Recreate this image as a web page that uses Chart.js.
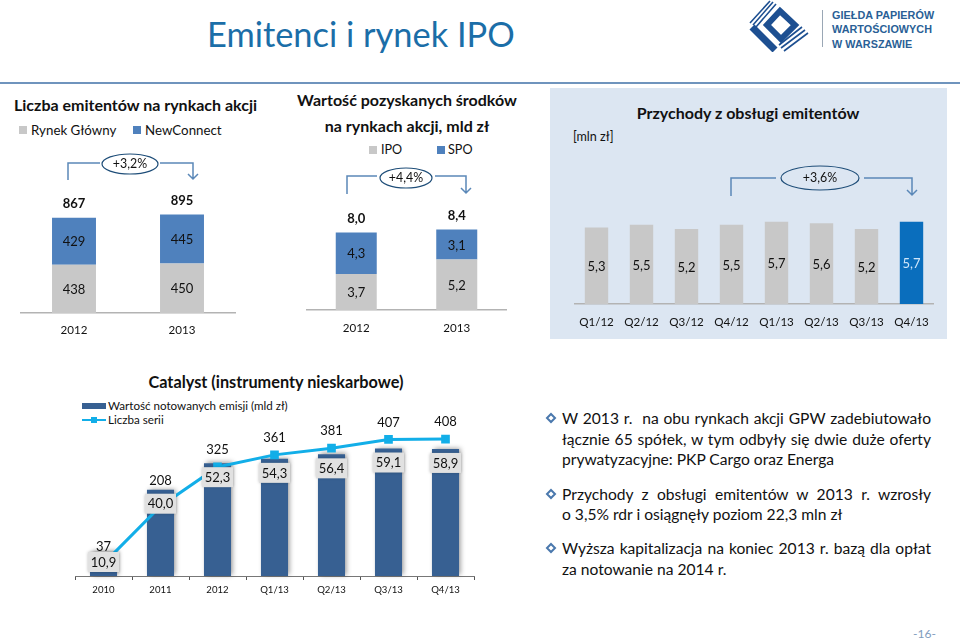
<!DOCTYPE html>
<html lang="pl">
<head>
<meta charset="utf-8">
<title>Emitenci i rynek IPO</title>
<script src="https://cdn.jsdelivr.net/npm/chart.js@4"></script>
<style>
  html, body { margin: 0; padding: 0; background: #fff; }
  #page { position: relative; width: 960px; height: 639px; overflow: hidden; font-family: Lato, sans-serif; color: #111; }
  #page > * { position: absolute; }
  canvas { display: block; }
  .t { white-space: nowrap; line-height: 20px; }
  .title { font-weight: 700; font-size: 16px; transform: translateX(-50%); }
  .leg { font-size: 12.6px; }
  .sw { width: 8px; height: 8px; }
  .body { left: 562px; width: 369px; font-size: 15.6px; line-height: 20px; white-space: normal; }
  .just { text-align: justify; text-align-last: justify; }
  .logo { font-family: "Liberation Sans", sans-serif; font-weight: 700; font-size: 10.8px; color: #2a5f96; letter-spacing: .05px; line-height: 14px; white-space: nowrap; }
</style>
</head>
<body>
<div id="page">
  <div class="t" style="left:207px;top:14px;font-size:34.4px;line-height:40px;color:#1b6ea8">Emitenci i rynek IPO</div>
  <div style="left:0;top:82px;width:960px;height:2px;background:#6f94bd"></div>

  <svg style="left:745px;top:0" width="65" height="52" viewBox="0 0 65 52">
    <g fill="none" stroke="#1d4f91">
      <path d="M5 23 L25 1 M8 25 L28 2 M11 27 L31 4" stroke-width="1.6"/>
      <path d="M7 27 L30 50" stroke-width="7"/>
      <path d="M35 11 L50 25 L36 39 L22 25 Z" stroke-width="6"/>
      <path d="M34 45 L57 27 M36 48 L60 30 M39 51 L63 33" stroke-width="1.6"/>
    </g>
  </svg>
  <div style="left:822px;top:10px;width:1px;height:37px;background:#9aa7b5"></div>
  <div class="logo" style="left:832px;top:8px">GIEŁDA PAPIERÓW</div>
  <div class="logo" style="left:832px;top:22px">WARTOŚCIOWYCH</div>
  <div class="logo" style="left:832px;top:37px">W WARSZAWIE</div>

  <div style="left:550px;top:88px;width:397px;height:251px;background:#dce6f2"></div>

  <div class="t title" style="left:135.5px;top:95px">Liczba emitentów na rynkach akcji</div>
  <div class="sw" style="left:19px;top:126px;background:#c8c8c8"></div>
  <div class="t leg" style="left:31px;top:120px;font-size:13.3px">Rynek Główny</div>
  <div class="sw" style="left:133px;top:126px;background:#4f81bd"></div>
  <div class="t leg" style="left:145px;top:120px;font-size:13.3px">NewConnect</div>

  <div class="t title" style="left:407px;top:90px">Wartość pozyskanych środków</div>
  <div class="t title" style="left:407px;top:116px">na rynkach akcji, mld zł</div>
  <div class="sw" style="left:369px;top:146px;background:#c8c8c8"></div>
  <div class="t leg" style="left:381px;top:140px">IPO</div>
  <div class="sw" style="left:437px;top:146px;background:#4f81bd"></div>
  <div class="t leg" style="left:448px;top:140px">SPO</div>

  <div class="t title" style="left:748px;top:103px">Przychody z obsługi emitentów</div>
  <div class="t leg" style="left:573px;top:127px">[mln zł]</div>

  <div class="t title" style="left:276px;top:372px;font-size:16.3px">Catalyst (instrumenty nieskarbowe)</div>
  <div style="left:82px;top:403px;width:24px;height:6px;background:#376092"></div>
  <div class="t" style="left:108px;top:396px;font-size:11.6px">Wartość notowanych emisji (mld zł)</div>
  <div style="left:82px;top:419px;width:24px;height:2px;background:#12aee8"></div>
  <div style="left:91px;top:417px;width:6px;height:6px;background:#12aee8"></div>
  <div class="t" style="left:108px;top:410px;font-size:11.6px">Liczba serii</div>

  <canvas id="emitentChart" width="216" height="153" style="left:20px;top:190px"></canvas>
  <canvas id="fundsChart" width="201" height="140" style="left:306px;top:200px"></canvas>
  <canvas id="revenueChart" width="360" height="131" style="left:574px;top:203px"></canvas>
  <canvas id="catalystChart" width="413" height="196" style="left:68px;top:405px"></canvas>

  <svg style="left:0;top:0" width="960" height="260">
    <g fill="none" stroke="#5b88b8" stroke-width="1.5">
      <path d="M68 180 V163 H100 M160 163 H193 V179 M188 174 L193 179 L198 174"/>
      <path d="M347 194 V176 H377 M435 176 H466 V193 M461 188 L466 193 L471 188"/>
      <path d="M731 196 V178 H776 M864 178 H912 V195 M907 190 L912 195 L917 190"/>
    </g>
    <g fill="none" stroke="#1f4e79" stroke-width="1.2">
      <ellipse cx="130" cy="164" rx="28" ry="10"/>
      <ellipse cx="406" cy="178" rx="26" ry="10"/>
      <ellipse cx="820" cy="178" rx="39" ry="12"/>
    </g>
  </svg>
  <div class="t" style="left:130px;top:154px;font-size:12.4px;transform:translateX(-50%)">+3,2%</div>
  <div class="t" style="left:406px;top:168px;font-size:12.4px;transform:translateX(-50%)">+4,4%</div>
  <div class="t" style="left:820px;top:168px;font-size:12.4px;transform:translateX(-50%)">+3,6%</div>

  <svg style="left:545px;top:412px" width="12" height="12" viewBox="0 0 12 12"><path d="M6 2 L10 6 L6 10 L2 6 Z" fill="none" stroke="#4a78ad" stroke-width="2"/></svg>
  <svg style="left:545px;top:488px" width="12" height="12" viewBox="0 0 12 12"><path d="M6 2 L10 6 L6 10 L2 6 Z" fill="none" stroke="#4a78ad" stroke-width="2"/></svg>
  <svg style="left:545px;top:542px" width="12" height="12" viewBox="0 0 12 12"><path d="M6 2 L10 6 L6 10 L2 6 Z" fill="none" stroke="#4a78ad" stroke-width="2"/></svg>

  <div class="body just" style="top:408px">W 2013 r.&nbsp; na obu rynkach akcji GPW zadebiutowało</div>
  <div class="body just" style="top:429px">łącznie 65 spółek, w tym odbyły się dwie duże oferty</div>
  <div class="body" style="top:449px">prywatyzacyjne: PKP Cargo oraz Energa</div>
  <div class="body just" style="top:484px">Przychody z obsługi emitentów w 2013 r. wzrosły</div>
  <div class="body" style="top:504px">o 3,5% rdr i osiągnęły poziom 22,3 mln zł</div>
  <div class="body just" style="top:538px">Wyższa kapitalizacja na koniec 2013 r. bazą dla opłat</div>
  <div class="body" style="top:559px">za notowanie na 2014 r.</div>

  <div class="t" style="left:913px;top:624px;font-size:12px;color:#7f9cbd">-16-</div>
</div>

<script>
// liczba emitentow
const emitentYears = ['2012', '2013'];
const mainMarket = [438, 450];
const newConnect = [429, 445];
const emitentTotals = [867, 895];

// wartosc pozyskanych srodkow
const fundYears = ['2012', '2013'];
const ipoValues = [3.7, 5.2];
const spoValues = [4.3, 3.1];
const fundTotals = [8.0, 8.4];

// przychody
const quarters = ['Q1/12', 'Q2/12', 'Q3/12', 'Q4/12', 'Q1/13', 'Q2/13', 'Q3/13', 'Q4/13'];
const revenue = [5.3, 5.5, 5.2, 5.5, 5.7, 5.6, 5.2, 5.7];

// catalyst
const catalystPeriods = ['2010', '2011', '2012', 'Q1/13', 'Q2/13', 'Q3/13', 'Q4/13'];
const issueValue = [10.9, 40.0, 52.3, 54.3, 56.4, 59.1, 58.9];
const seriesCount = [37, 208, 325, 361, 381, 407, 408];

const GREY = '#c8c8c8';
const BLUE = '#4f81bd';
const FONT = 'Lato, sans-serif';
const TEXT = '#111';

function pl(value) {
  return value.toFixed(1).replace('.', ',');
}

function put(ctx, text, x, y, font, color) {
  ctx.font = font;
  ctx.fillStyle = color || TEXT;
  ctx.textAlign = 'center';
  ctx.textBaseline = 'middle';
  ctx.fillText(text, x, y);
}

function axisX(height, padding, fontSize) {
  return {
    stacked: true,
    grid: { display: false },
    border: { display: true, color: '#b3b3b3', width: 1.5 },
    ticks: { autoSkip: false, maxRotation: 0, padding: padding, color: TEXT, font: { family: FONT, size: fontSize } },
    afterFit: scale => { scale.height = height; }
  };
}

function baseOptions(topPadding, x, y) {
  return {
    responsive: false,
    animation: false,
    layout: { padding: { top: topPadding, left: 0, right: 0, bottom: 0 } },
    plugins: { legend: { display: false }, tooltip: { enabled: false } },
    scales: { x: x, y: y }
  };
}

// etykiety w slupkach i suma nad slupkiem
function stackLabels(totals, format) {
  return {
    id: 'stackLabels',
    afterDatasetsDraw(chart) {
      const ctx = chart.ctx;
      chart.data.datasets.forEach((ds, d) => {
        chart.getDatasetMeta(d).data.forEach((bar, i) => {
          const mid = (bar.y + bar.base) / 2 + 1;
          put(ctx, format(ds.data[i]), bar.x, mid, '13px ' + FONT);
          if (d === chart.data.datasets.length - 1) {
            put(ctx, format(totals[i]), bar.x, bar.y - 14, '700 13px ' + FONT);
          }
        });
      });
    }
  };
}

function stackedChart(id, labels, lower, upper, totals, yMax, barPct, topPadding, tickPad, format) {
  new Chart(document.getElementById(id), {
    type: 'bar',
    data: {
      labels: labels,
      datasets: [
        { data: lower, backgroundColor: GREY, barPercentage: barPct, categoryPercentage: 1 },
        { data: upper, backgroundColor: BLUE, barPercentage: barPct, categoryPercentage: 1 }
      ]
    },
    options: baseOptions(topPadding, axisX(30, tickPad, 11.6), { display: false, stacked: true, min: 0, max: yMax }),
    plugins: [stackLabels(totals, format)]
  });
}

stackedChart('emitentChart', emitentYears, mainMarket, newConnect, emitentTotals, 1000, 0.407, 13, 2, String);
stackedChart('fundsChart', fundYears, ipoValues, spoValues, fundTotals, 10, 0.408, 13, 3, pl);

new Chart(document.getElementById('revenueChart'), {
  type: 'bar',
  data: {
    labels: quarters,
    datasets: [{
      data: revenue,
      backgroundColor: ctx => ctx.dataIndex === revenue.length - 1 ? '#0a6ebd' : GREY,
      barPercentage: 0.52,
      categoryPercentage: 1
    }]
  },
  options: baseOptions(0, axisX(30, 3, 11.6), { display: false, min: 0, max: 7 }),
  plugins: [{
    id: 'revenueLabels',
    afterDatasetsDraw(chart) {
      chart.getDatasetMeta(0).data.forEach((bar, i) => {
        const last = i === revenue.length - 1;
        put(chart.ctx, pl(revenue[i]), bar.x, (bar.y + bar.base) / 2 + 1, '13px ' + FONT, last ? '#cfe6fa' : TEXT);
      });
    }
  }]
});

new Chart(document.getElementById('catalystChart'), {
  type: 'bar',
  data: {
    labels: catalystPeriods,
    datasets: [
      {
        type: 'line',
        data: seriesCount,
        yAxisID: 'y1',
        borderColor: '#12aee8',
        backgroundColor: '#12aee8',
        borderWidth: 3,
        pointStyle: 'rect',
        pointRadius: 4,
        tension: 0,
        clip: false,
        order: 0
      },
      {
        data: issueValue,
        yAxisID: 'y',
        backgroundColor: '#376092',
        barPercentage: 0.475,
        categoryPercentage: 1,
        clip: false,
        order: 1
      }
    ]
  },
  options: (() => {
    const x = axisX(25, 4, 9.6);
    x.stacked = false;
    x.grid = { display: true, offset: true, drawOnChartArea: false, drawTicks: true, tickLength: 4, color: '#555' };
    x.border = { display: true, color: '#777', width: 1 };
    const opts = baseOptions(20, x, { display: false, min: 0, max: 70 });
    opts.scales.y1 = { display: false, min: 0, max: 450 };
    return opts;
  })(),
  plugins: [{
    id: 'catalystLabels',
    beforeDatasetDraw(chart, args) {
      if (args.index === 1) {
        chart.ctx.save();
        chart.ctx.shadowColor = 'rgba(0,0,0,0.4)';
        chart.ctx.shadowBlur = 5;
        chart.ctx.shadowOffsetX = 2;
        chart.ctx.shadowOffsetY = -1;
      }
    },
    afterDatasetDraw(chart, args) {
      if (args.index === 1) chart.ctx.restore();
    },
    afterDatasetsDraw(chart) {
      const ctx = chart.ctx;
      const bars = chart.getDatasetMeta(1).data;
      const points = chart.getDatasetMeta(0).data;
      const bottom = chart.chartArea.bottom;
      bars.forEach((bar, i) => {
        const boxTop = Math.min(bar.y + 4, bottom - 24);
        ctx.save();
        ctx.shadowColor = 'rgba(0,0,0,0.25)';
        ctx.shadowBlur = 3;
        ctx.fillStyle = '#e1e1e1';
        ctx.fillRect(bar.x - 15.5, boxTop, 31, 20);
        ctx.restore();
        put(ctx, pl(issueValue[i]), bar.x, boxTop + 10.5, '13px ' + FONT);
      });
      points.forEach((pt, i) => {
        put(ctx, String(seriesCount[i]), pt.x, pt.y - (i === 1 ? 25 : 17), '13px ' + FONT);
      });
    }
  }]
});
</script>
</body>
</html>
